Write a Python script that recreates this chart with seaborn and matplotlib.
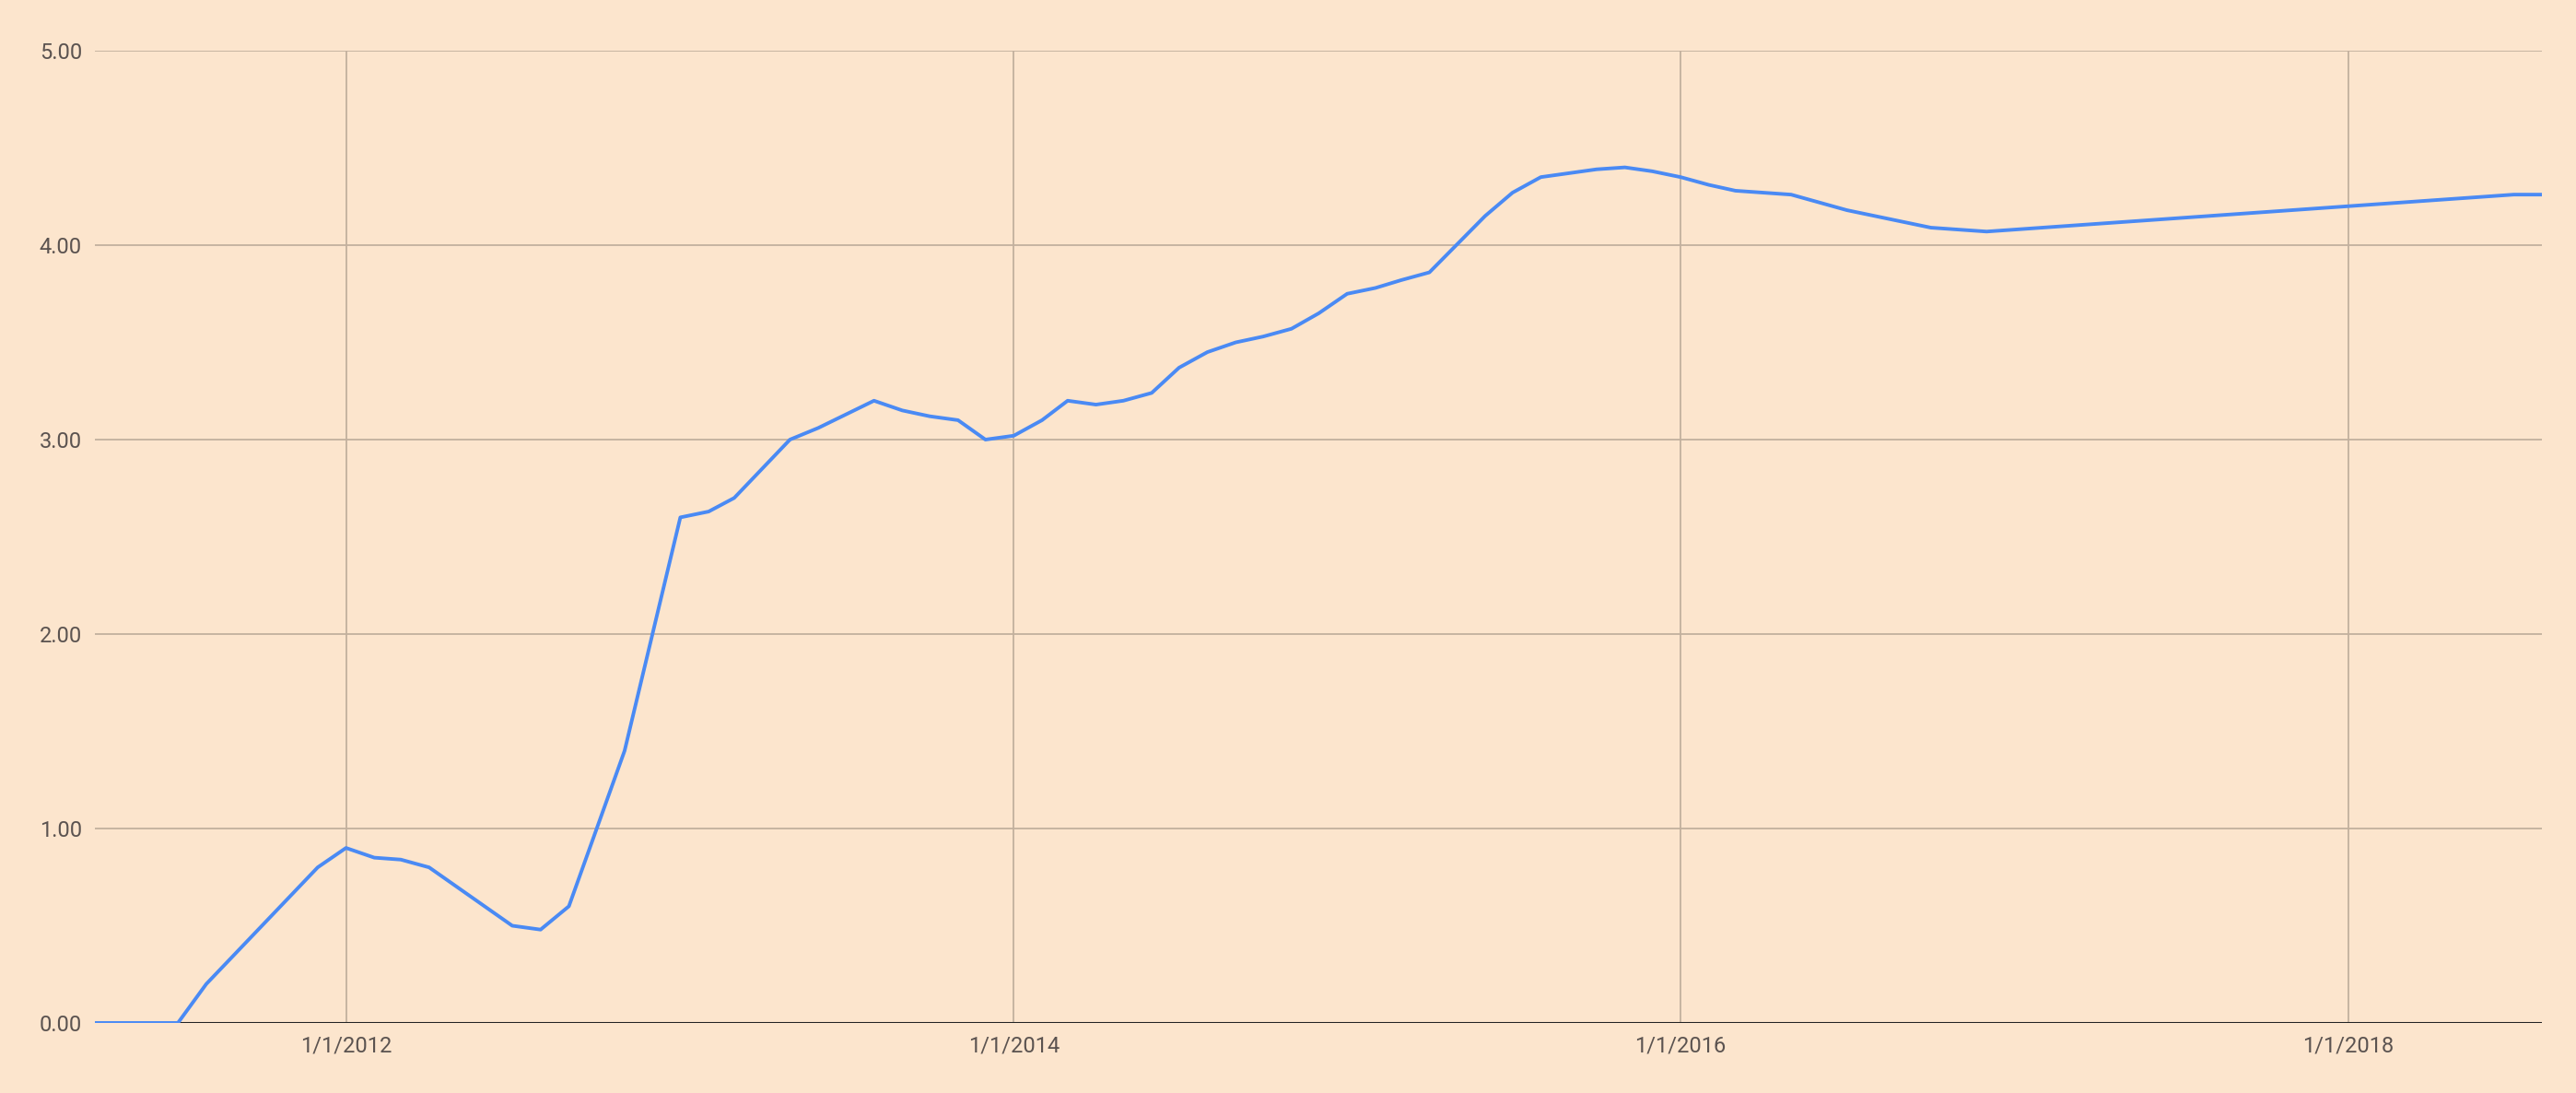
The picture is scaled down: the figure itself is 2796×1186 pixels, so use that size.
import pandas as pd
import numpy as np
import matplotlib
matplotlib.use('Agg')
import matplotlib.pyplot as plt
import matplotlib.dates as mdates
import seaborn as sns

# Data (vertices of the line)
dates = ['2011-04-01', '2011-07-01', '2011-08-01', '2011-12-01', '2012-01-01',
         '2012-02-01', '2012-03-01', '2012-04-01', '2012-07-01', '2012-08-01',
         '2012-09-01', '2012-11-01', '2013-01-01', '2013-02-01', '2013-03-01',
         '2013-05-01', '2013-06-01', '2013-08-01', '2013-09-01', '2013-10-01',
         '2013-11-01', '2013-12-01', '2014-01-01', '2014-02-01', '2014-03-01',
         '2014-04-01', '2014-05-01', '2014-06-01', '2014-07-01', '2014-08-01',
         '2014-09-01', '2014-10-01', '2014-11-01', '2014-12-01', '2015-01-01',
         '2015-02-01', '2015-03-01', '2015-04-01', '2015-06-01', '2015-07-01',
         '2015-08-01', '2015-10-01', '2015-11-01', '2015-12-01', '2016-01-01',
         '2016-02-01', '2016-03-01', '2016-05-01', '2016-07-01', '2016-10-01',
         '2016-12-01', '2018-07-01', '2018-08-01']
values = [0.00, 0.00, 0.20, 0.80, 0.90,
          0.85, 0.84, 0.80, 0.50, 0.48,
          0.60, 1.40, 2.60, 2.63, 2.70,
          3.00, 3.06, 3.20, 3.15, 3.12,
          3.10, 3.00, 3.02, 3.10, 3.20,
          3.18, 3.20, 3.24, 3.37, 3.45,
          3.50, 3.53, 3.57, 3.65, 3.75,
          3.78, 3.82, 3.86, 4.15, 4.27,
          4.35, 4.39, 4.40, 4.38, 4.35,
          4.31, 4.28, 4.26, 4.18, 4.09,
          4.07, 4.26, 4.26]
y_ticks = [0, 1, 2, 3, 4, 5]

df = pd.DataFrame({'date': pd.to_datetime(dates), 'value': values})

# Colours
bg = '#FCE5CD'
grid_col = '#C2B09E'
text_col = '#5B5350'
line_col = '#4A8AF4'

sns.set_theme(style='white')
plt.rcParams['font.family'] = ['Roboto', 'DejaVu Sans']

fig = plt.figure(figsize=(27.96, 11.86), dpi=100, facecolor=bg)
ax = fig.add_axes([0.0368, 0.0641, 0.9500, 0.8895])
ax.set_facecolor(bg)

# zero baseline under the series
ax.axhline(0, color='#222222', linewidth=2.2, zorder=2)
sns.lineplot(data=df, x='date', y='value', color=line_col, linewidth=2.8, ax=ax, zorder=3)

ax.set_xlim(pd.Timestamp('2011-04-01'), pd.Timestamp('2018-08-01'))
ax.set_ylim(0, 5)
ax.set_yticks(y_ticks)
ax.yaxis.set_major_formatter(plt.FuncFormatter(lambda v, p: f'{v:.2f}'))

ax.xaxis.set_major_locator(mdates.YearLocator(2))
ax.xaxis.set_major_formatter(plt.FuncFormatter(
    lambda v, p: '{d.month}/{d.day}/{d.year}'.format(d=mdates.num2date(v))))

ax.grid(True, color=grid_col, linewidth=1.3, zorder=1)
for s in ax.spines.values():
    s.set_visible(False)

ax.tick_params(axis='both', length=0, labelsize=17, labelcolor=text_col)
ax.tick_params(axis='y', pad=10)
ax.tick_params(axis='x', pad=10)
ax.set_xlabel('')
ax.set_ylabel('')

fig.savefig('out.png', dpi=100, facecolor=bg)
